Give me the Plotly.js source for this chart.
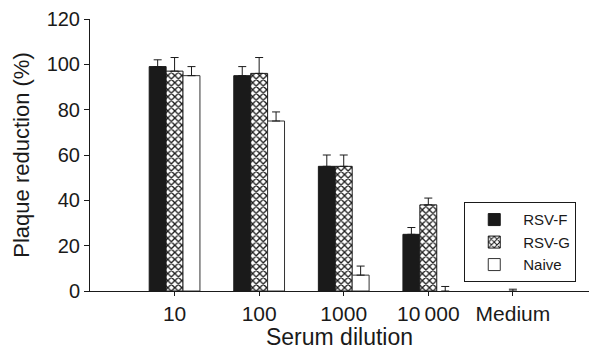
<!DOCTYPE html>
<html>
<head>
<meta charset="utf-8">
<script src="https://cdn.plot.ly/plotly-3.0.1.min.js"></script>
<style>
html, body { margin: 0; padding: 0; background: #fff; }
#chart { width: 595px; height: 350px; }
</style>
</head>
<body>
<div id="chart"></div>
<script>
const categories = ["10", "100", "1000", "10\u2009000", "Medium"];
const seriesNames = ["RSV-F", "RSV-G", "Naive"];
const rsvF = [99, 95, 55, 25, 0];
const rsvFErr = [3, 4, 5, 3, NaN];
const rsvG = [97, 96, 55, 38, 0];
const rsvGErr = [6, 7, 5, 3, 0.8];
const naive = [95, 75, 7, 0, 0];
const naiveErr = [4, 4, 4, 2, NaN];
const yTicks = [0, 20, 40, 60, 80, 100, 120];

function errUp(arr) {
  return {
    type: "data", symmetric: false, array: arr,
    arrayminus: arr.map(v => (isNaN(v) ? NaN : 0)),
    color: "#1a1a1a", thickness: 1, width: 4
  };
}
function outline(vals) { return vals.map(v => (v > 0 ? 1 : 0)); }

const traces = [
  {
    type: "bar", name: seriesNames[0], x: categories, y: rsvF,
    marker: { color: "#1a1a1a", line: { color: "#1a1a1a", width: outline(rsvF) } },
    error_y: errUp(rsvFErr)
  },
  {
    type: "bar", name: seriesNames[1], x: categories, y: rsvG,
    marker: {
      color: "#ffffff",
      line: { color: "#1a1a1a", width: outline(rsvG) },
      pattern: { shape: "x", fgcolor: "#1a1a1a", bgcolor: "#ffffff", size: 5, solidity: 0.45 }
    },
    error_y: errUp(rsvGErr)
  },
  {
    type: "bar", name: seriesNames[2], x: categories, y: naive,
    marker: { color: "#ffffff", line: { color: "#333333", width: outline(naive) } },
    error_y: errUp(naiveErr)
  }
];

const layout = {
  width: 595, height: 350,
  margin: { l: 90, r: 6, t: 19, b: 59 },
  paper_bgcolor: "#ffffff", plot_bgcolor: "#ffffff",
  font: { family: "Liberation Sans, Arial, sans-serif", color: "#1a1a1a", size: 20 },
  barmode: "group", bargap: 0.4, bargroupgap: 0,
  showlegend: true,
  legend: {
    x: 0.75, y: 0.326, xanchor: "left", yanchor: "top",
    bordercolor: "#1a1a1a", borderwidth: 1, bgcolor: "#ffffff",
    font: { size: 15, color: "#1a1a1a" },
    itemwidth: 48,
    tracegroupgap: 0
  },
  xaxis: {
    type: "category", range: [-1, 4.9],
    showline: true, linecolor: "#1a1a1a", linewidth: 1,
    ticks: "outside", ticklen: 4, tickcolor: "#1a1a1a",
    showgrid: false, zeroline: false,
    tickfont: { size: 21 },
    title: { text: "Serum dilution", font: { size: 23 }, standoff: 4 }
  },
  yaxis: {
    range: [0, 120], tickvals: yTicks,
    showline: true, linecolor: "#1a1a1a", linewidth: 1,
    ticks: "outside", ticklen: 5, tickcolor: "#1a1a1a",
    showgrid: false, zeroline: false,
    tickfont: { size: 20 },
    title: { text: "Plaque reduction (%)", font: { size: 22 }, standoff: 10 }
  }
};

Plotly.newPlot("chart", traces, layout, { displayModeBar: false, staticPlot: true });
</script>
</body>
</html>
